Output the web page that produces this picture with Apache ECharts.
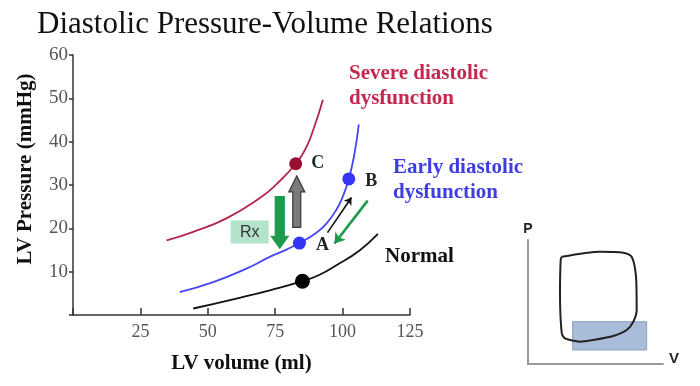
<!DOCTYPE html>
<html><head><meta charset="utf-8">
<script src="https://cdn.jsdelivr.net/npm/echarts@6/dist/echarts.min.js"></script>
<style>html,body{margin:0;padding:0;background:#fff}#c{width:700px;height:386px}</style>
</head><body><div id="c"></div>
<script>
// ---- data ----
var xTicks = [0, 25, 50, 75, 100, 125];
var yTicks = [0, 10, 20, 30, 40, 50, 60];
var severeCurve = [[34.7,17.2],[44.6,19.2],[56.9,22.3],[69.3,27.0],[75.5,30.2],[82.6,34.9],[86.6,38.8],[89.6,43.6],[92.7,49.7]];
var earlyCurve  = [[39.6,5.3],[52.0,7.6],[64.3,10.7],[73.0,13.4],[79.2,15.1],[84.0,16.6],[90.3,19.0],[94.0,21.1],[97.8,24.4],[99.8,26.9],[102.3,31.4],[104.4,37.2],[106.0,44.0]];
var normalCurve = [[44.6,1.5],[60.6,3.8],[73.0,5.7],[85.1,7.8],[91.5,9.3],[97.7,11.5],[106.3,14.9],[113.1,18.7]];
var pointC = [[82.6,34.9]];
var pointsAB = [[84.0,16.6],[102.3,31.4]];
var pointNames = ['A','B'];
var pointNormal = [[85.1,7.8]];
// fat arrows: [x, yFrom, yTo]
var grayArrow = [[83.0,20.2,32.1]];
var greenArrow = [[76.7,27.3,15.4]];
// Rx box: [x1, y1, x2, y2]
var rxBox = [[58.5,16.5,72.6,21.8]];
// thin arrows
var blackThin = [[[94.4,19.0],[103.3,27.1]]];
var greenThin = [[[109.3,26.4],[97.0,16.5]]];
// inset PV loop (relative units 0-100)
var pvLoop = [[25.0,86.5],[53.3,90.6],[70.6,89.8],[76.8,86.5],[80.0,70.4],[80.5,43.5],[78.0,34.1],[73.1,27.4],[63.2,22.6],[48.4,19.4],[38.5,18.0],[27.4,20.7],[25.0,24.8],[23.7,57.0],[24.2,83.9],[25.0,86.5]];
var pvBox = [[33.1,11.3],[87.9,34.1]];

var serif = 'Liberation Serif';
var chart = echarts.init(document.getElementById('c'));

function fatArrow(color, stroke, sw, hw, hl) {
  return function (params, api) {
    var x = api.value(0), y1 = api.value(1), y2 = api.value(2);
    var p1 = api.coord([x, y1]), p2 = api.coord([x, y2]);
    var dir = p2[1] > p1[1] ? 1 : -1;
    var hb = p2[1] - dir * hl;
    var cx = p1[0];
    return {
      type: 'polygon',
      shape: { points: [[cx - sw, p1[1]], [cx + sw, p1[1]], [cx + sw, hb], [cx + hw, hb], [cx, p2[1]], [cx - hw, hb], [cx - sw, hb]] },
      style: { fill: color, stroke: stroke, lineWidth: 1.2 }
    };
  };
}

chart.setOption({
  animation: false,
  graphic: [
    { type: 'text', left: 37, top: 9, style: { text: 'Diastolic Pressure-Volume Relations', font: '31px "Liberation Serif"', fill: '#111' } },
    { type: 'text', left: 349, top: 61, style: { text: 'Severe diastolic\ndysfunction', font: 'bold 21px "Liberation Serif"', fill: '#c4284f', lineHeight: 25 } },
    { type: 'text', left: 393, top: 155, style: { text: 'Early diastolic\ndysfunction', font: 'bold 21px "Liberation Serif"', fill: '#3d3de0', lineHeight: 25 } },
    { type: 'text', left: 385, top: 246, style: { text: 'Normal', font: 'bold 21px "Liberation Serif"', fill: '#111' } }
  ],
  grid: [
    { left: 73, right: 290, top: 55, bottom: 71 },
    { left: 528, right: 37, top: 240, bottom: 22 }
  ],
  xAxis: [
    { gridIndex: 0, type: 'value', min: 0, max: 125, interval: 25,
      name: 'LV volume (ml)', nameLocation: 'middle', nameGap: 38,
      nameTextStyle: { fontFamily: serif, fontWeight: 'bold', fontSize: 21, color: '#111' },
      axisLine: { lineStyle: { color: '#333', width: 1.5 } },
      axisTick: { inside: true, length: 7, lineStyle: { color: '#333', width: 1.5 } },
      axisLabel: { fontFamily: serif, fontSize: 18, color: '#555', margin: 8, formatter: function (v) { return v === 0 ? '' : v; } },
      splitLine: { show: false } },
    { gridIndex: 1, type: 'value', min: 0, max: 100,
      name: 'V', nameLocation: 'end', nameGap: 6,
      nameTextStyle: { fontFamily: 'Liberation Sans', fontWeight: 'bold', fontSize: 15, color: '#222', verticalAlign: 'bottom', padding: [0, 0, -2, 0] },
      axisLine: { lineStyle: { color: '#999', width: 2 } },
      axisTick: { show: false }, axisLabel: { show: false }, splitLine: { show: false } }
  ],
  yAxis: [
    { gridIndex: 0, type: 'value', min: 0, max: 60, interval: 10,
      name: 'LV Pressure (mmHg)', nameLocation: 'middle', nameGap: 37,
      nameTextStyle: { fontFamily: serif, fontWeight: 'bold', fontSize: 21, color: '#111', padding: [0, 0, 0, 32] },
      axisLine: { show: true, lineStyle: { color: '#333', width: 1.5 } },
      axisTick: { show: true, length: 4, lineStyle: { color: '#333', width: 1.5 } },
      axisLabel: { fontFamily: serif, fontSize: 19, color: '#555', margin: 5, formatter: function (v) { return v === 0 ? '' : v; } },
      splitLine: { show: false } },
    { gridIndex: 1, type: 'value', min: 0, max: 100,
      name: 'P', nameLocation: 'end', nameGap: 4,
      nameTextStyle: { fontFamily: 'Liberation Sans', fontWeight: 'bold', fontSize: 14, color: '#222', align: 'center' },
      axisLine: { show: true, lineStyle: { color: '#999', width: 2 } },
      axisTick: { show: false }, axisLabel: { show: false }, splitLine: { show: false } }
  ],
  series: [
    { type: 'line', data: severeCurve, smooth: 0.5, showSymbol: false, lineStyle: { color: '#b3264c', width: 1.8 }, z: 2 },
    { type: 'line', data: earlyCurve, smooth: 0.5, showSymbol: false, lineStyle: { color: '#4646f0', width: 1.8 }, z: 2 },
    { type: 'line', data: normalCurve, smooth: 0.5, showSymbol: false, lineStyle: { color: '#111', width: 1.8 }, z: 2 },
    { type: 'custom', renderItem: function (params, api) {
        var a = api.coord([api.value(0), api.value(1)]), b = api.coord([api.value(2), api.value(3)]);
        return { type: 'group', children: [
          { type: 'rect', shape: { x: a[0], y: b[1], width: b[0] - a[0], height: a[1] - b[1] }, style: { fill: '#b3e3cb' } },
          { type: 'text', style: { text: 'Rx', x: (a[0] + b[0]) / 2, y: (a[1] + b[1]) / 2 + 1, align: 'center', verticalAlign: 'middle', font: '16px "Liberation Sans"', fill: '#333' } }
        ] };
      }, data: rxBox, z: 3 },
    { type: 'custom', renderItem: fatArrow('#7b7b7b', '#3a3a3a', 4, 8, 16), data: grayArrow, z: 4 },
    { type: 'custom', renderItem: fatArrow('#1e9a4c', '#1e9a4c', 4.5, 8.5, 12), data: greenArrow, z: 4 },
    { type: 'lines', coordinateSystem: 'cartesian2d', data: blackThin.map(function (c) { return { coords: c }; }),
      symbol: ['none', 'arrow'], symbolSize: 7, lineStyle: { color: '#111', width: 1.6, opacity: 1 }, z: 4 },
    { type: 'lines', coordinateSystem: 'cartesian2d', data: greenThin.map(function (c) { return { coords: c }; }),
      symbol: ['none', 'arrow'], symbolSize: 10, lineStyle: { color: '#1e9a4c', width: 2.6, opacity: 1 }, z: 4 },
    { type: 'scatter', data: pointC, symbolSize: 13, itemStyle: { color: '#9a0f30', opacity: 1 }, z: 5,
      label: { show: true, position: 'right', distance: 9, formatter: 'C', fontFamily: serif, fontWeight: 'bold', fontSize: 18, color: '#1d2d2a' } },
    { type: 'scatter', data: pointsAB.map(function (p, i) { return { value: p, name: pointNames[i] }; }), symbolSize: 13, itemStyle: { color: '#3535f5', opacity: 1 }, z: 5,
      label: { show: true, position: 'right', distance: 10, offset: [0, 2], formatter: '{b}', fontFamily: serif, fontWeight: 'bold', fontSize: 18, color: '#222' } },
    { type: 'scatter', data: pointNormal, symbolSize: 15, itemStyle: { color: '#000', opacity: 1 }, z: 5 },
    { type: 'line', xAxisIndex: 1, yAxisIndex: 1, data: pvLoop, smooth: 0.25, showSymbol: false,
      lineStyle: { color: '#222', width: 2 }, z: 3,
      markArea: { silent: true, itemStyle: { color: 'rgba(140,166,204,0.75)', borderColor: '#8aa0c2', borderWidth: 1 },
        data: [[{ coord: pvBox[0] }, { coord: pvBox[1] }]] } }
  ]
});
</script></body></html>
